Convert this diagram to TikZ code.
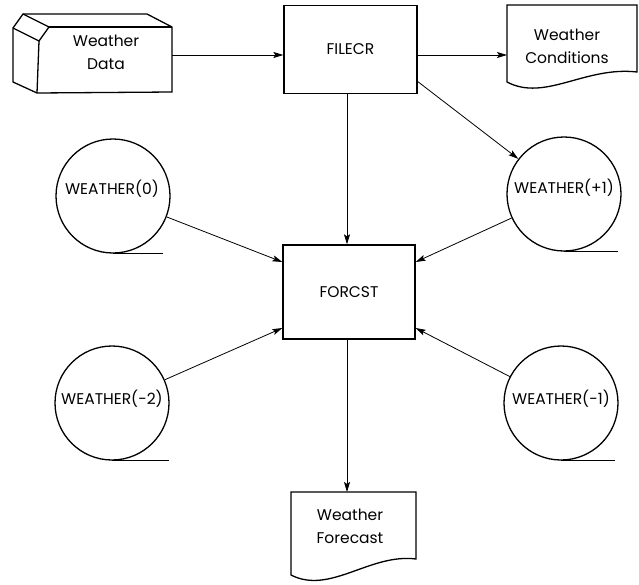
\documentclass[tikz,border=0pt]{standalone}
\usepackage{fontspec}
\setmainfont{Poppins}
\usetikzlibrary{arrows.meta}
\begin{document}
\begin{tikzpicture}[x=1pt,y=-1pt,
  shapeline/.style={line width=1.3pt, line join=miter},
  conn/.style={line width=0.8pt},
  arr/.style={conn, -{Stealth[length=10pt,width=6pt,inset=2pt]}},
  procbox/.style={draw, shapeline, minimum width=133pt, minimum height=88pt, inner sep=0pt},
  tape/.style={draw, shapeline, circle, minimum size=114pt, inner sep=0pt},
  lbl/.style={font=\fontsize{15.5}{23}\selectfont, align=center, inner sep=0pt},
]
\useasboundingbox (0,0) rectangle (639,584);

% Weather Data (storage box)
\draw[shapeline] (23,14) -- (147,14) -- (172,27) -- (172,92) -- (37,93) -- (13,82) -- (13,28) -- cycle;
\draw[shapeline] (13,28) -- (39,41) -- (49,27) -- (23,14);
\draw[shapeline] (49,27) -- (172,27);
\draw[shapeline] (39,41) -- (37,93);
\node[lbl] (wd) at (106,52) {Weather\\Data};
\coordinate (wdout) at (172,55);

% FILECR
\node[procbox, lbl] (filecr) at (350.5,49.5) {FILECR};

% Weather Conditions document
\draw[shapeline] (507,5) -- (637,5) -- (637,72) .. controls (585,66) and (545,102) .. (507,82) -- cycle;
\node[lbl] (wc) at (567,46) {Weather\\Conditions};
\coordinate (wcin) at (507,55);

% FORCST
\node[procbox, lbl, minimum width=132pt, minimum height=94pt] (forcst) at (349,292) {FORCST};

% Tapes
\node[tape] (w0) at (113,196) {};
\node[lbl] (w0t) at (112,189) {WEATHER(0)};
\draw[shapeline] (w0.south) -- ++(50,0);

\node[tape] (w1) at (564,194) {};
\node[lbl] (w1t) at (564,188) {WEATHER(+1)};
\draw[shapeline] (w1.south) -- ++(54,0);

\node[tape] (wm2) at (112,403) {};
\node[lbl] (wm2t) at (112,399) {WEATHER(-2)};
\draw[shapeline] (wm2.south) -- ++(57,0);

\node[tape] (wm1) at (561,403) {};
\node[lbl] (wm1t) at (561,399) {WEATHER(-1)};
\draw[shapeline] (wm1.south) -- ++(54,0);

% Weather Forecast document
\draw[shapeline] (291,492) -- (416,492) -- (416,559) .. controls (370,553) and (330,595) .. (291,575) -- cycle;
\node[lbl] (wf) at (350,526) {Weather\\Forecast};
\coordinate (wftop) at (347,492);

% Connectors
\draw[arr] (wdout) -- (filecr.west |- wdout);
\draw[arr] (filecr.east |- wcin) -- (wcin);
\draw[arr] ([yshift=-32pt]filecr.east) -- (w1);
\draw[arr] (filecr.south -| wftop) -- (forcst.north -| wftop);
\draw[arr] (w0) -- ([yshift=30pt]forcst.west);
\draw[arr] (w1) -- ([yshift=30pt]forcst.east);
\draw[arr] (wm2) -- ([yshift=-36pt]forcst.west);
\draw[arr] (wm1) -- ([yshift=-36pt]forcst.east);
\draw[arr] (forcst.south -| wftop) -- (wftop);
\end{tikzpicture}
\end{document}
